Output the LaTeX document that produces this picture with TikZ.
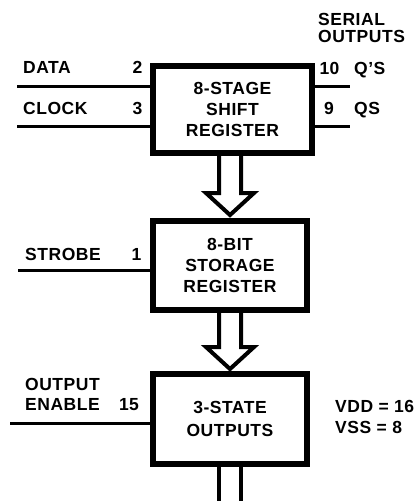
\documentclass[tikz,border=0pt]{standalone}
\usepackage{fontspec}
\setmainfont{Liberation Sans}[LetterSpace=3]
\usetikzlibrary{positioning,calc}

\begin{document}
\begin{tikzpicture}[x=1pt, y=-1pt,
  block/.style={draw, line width=6pt, minimum width=154pt, minimum height=89pt, align=center, inner sep=0pt, font=\bfseries\fontsize{17.5}{21}\selectfont},
  pinline/.style={line width=3pt},
  lbl/.style={inner sep=0pt, anchor=base west, align=left, font=\bfseries\fontsize{17.5}{20}\selectfont},
  pinno/.style={inner sep=0pt, anchor=base, font=\bfseries\fontsize{17.5}{20}\selectfont},
  bus/.style={line width=4pt, line join=miter}
]
  \useasboundingbox (0,0) rectangle (417,501);

  % register chain
  \node[block, minimum width=159pt, minimum height=87pt] (b1) at (232.5,109.5) {8-STAGE\\SHIFT\\REGISTER};
  \node[block, below=62pt of b1.south west, anchor=north west] (b2) {8-BIT\\STORAGE\\REGISTER};
  \node[block, minimum height=90pt, below=58pt of b2] (b3) {3-STATE\\[2pt]OUTPUTS};

  % inputs
  \coordinate (datain) at (17,86);
  \coordinate (clkin) at (17,126);
  \coordinate (strobein) at (18,270);
  \coordinate (oein) at (10,423);
  \draw[pinline] (datain) -- (datain -| b1.west);
  \draw[pinline] (clkin) -- (clkin -| b1.west);
  \draw[pinline] (strobein) -- (strobein -| b2.west);
  \draw[pinline] (oein) -- (oein -| b3.west);

  \node[lbl] (tdata) at (23,73) {DATA};
  \node[pinno] (pdata) at (137.5,73) {2};
  \node[lbl] (tclk) at (23,114) {CLOCK};
  \node[pinno] (pclk) at (137.5,114) {3};
  \node[lbl] (tstrobe) at (25,260) {STROBE};
  \node[pinno] (pstrobe) at (136.5,260) {1};
  \node[lbl] (toe) at (25,410) {OUTPUT\\ENABLE};
  \node[pinno] (poe) at (129,410) {15};

  % serial outputs
  \coordinate (qsout) at (350,86);
  \coordinate (qout) at (350,126);
  \draw[pinline] (b1.east |- qsout) -- (qsout);
  \draw[pinline] (b1.east |- qout) -- (qout);

  \node[lbl] (tserial) at (318,42) {SERIAL\\[-3pt]OUTPUTS};
  \node[pinno] (pqs) at (329.5,74) {10};
  \node[lbl] (tqs) at (354,74) {Q'S};
  \node[pinno] (pq) at (329,114) {9};
  \node[lbl] (tq) at (354,114) {QS};

  % supply
  \node[lbl] (tvdd) at (335,412) {VDD = 16};
  \node[lbl] (tvss) at (335,433) {VSS = 8};

  % parallel buses
  \draw[bus] ($(b2.north)+(-11,-62)$) -- ++(0,37) -- ++(-13,0) -- ++(24,22) -- ++(24,-22) -- ++(-13,0) -- ++(0,-37);
  \draw[bus] ($(b3.north)+(-11,-58)$) -- ++(0,34) -- ++(-13,0) -- ++(24,22) -- ++(24,-22) -- ++(-13,0) -- ++(0,-34);
  \coordinate (busout) at (230,506);
  \draw[bus] ($(b3.south)+(-11,0)$) -- ($(busout)+(-11,0)$);
  \draw[bus] ($(b3.south)+(11,0)$) -- ($(busout)+(11,0)$);
\end{tikzpicture}
\end{document}
